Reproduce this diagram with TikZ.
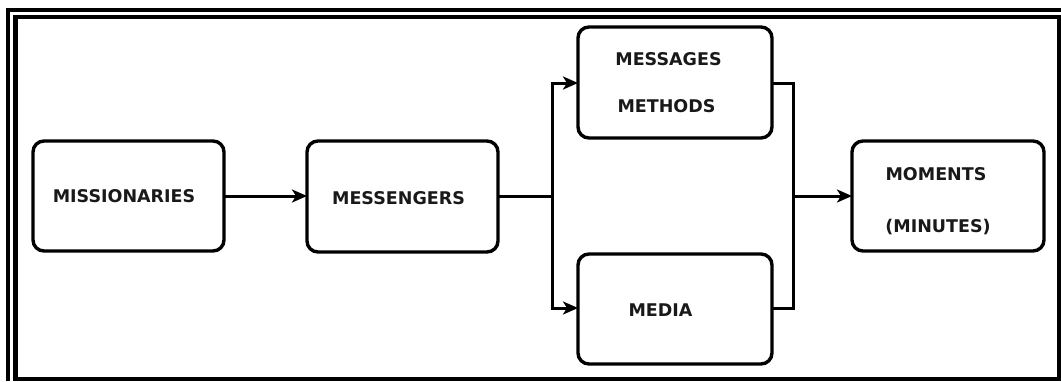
\documentclass[tikz,border=0pt]{standalone}
\usepackage{fontspec}
\setmainfont{DejaVu Sans}
\usetikzlibrary{arrows.meta}
\begin{document}
\begin{tikzpicture}[x=1pt,y=-1pt,
  box/.style={draw=black,line width=3.4pt,rounded corners=11pt,fill=white},
  lbl/.style={font=\fontsize{17.5}{20}\selectfont\bfseries,text=black!90,inner sep=0pt},
  link/.style={line width=3pt},
  arr/.style={link,-{Stealth[length=15pt,width=13pt,inset=4pt]}}]
\useasboundingbox (0,0) rectangle (1061,381);
% double frame
\draw[line width=3.8pt] (8,381) -- (8,9.8) -- (1061,9.8);
\draw[line width=4.8pt] (15.6,17) rectangle (1058.9,378.9);
% boxes
\draw[box] (33,141) rectangle (224,251);
\draw[box] (307,141) rectangle (498,252);
\draw[box] (578,27) rectangle (772,138);
\draw[box] (578,254) rectangle (772,364);
\draw[box] (852,141) rectangle (1044,251);
% labels
\node[lbl] (missionaries) at (124,196) {MISSIONARIES};
\node[lbl] (messengers) at (398.5,198) {MESSENGERS};
\node[lbl] (messages) at (668.5,59.5) {MESSAGES};
\node[lbl] (methods) at (666.5,106) {METHODS};
\node[lbl] (media) at (660.5,310) {MEDIA};
\node[lbl] (moments) at (936,174.5) {MOMENTS};
\node[lbl] (minutes) at (938,227.5) {(MINUTES)};
% anchor points on box edges
\coordinate (missR) at (224,196);
\coordinate (messL) at (307,196);
\coordinate (messR) at (498,196.5);
\coordinate (split) at (552.7,196.5);
\coordinate (msgL) at (578,83);
\coordinate (medL) at (578,308);
\coordinate (msgR) at (772,83);
\coordinate (medR) at (772,308);
\coordinate (merge) at (793.3,196);
\coordinate (momL) at (852,196);
% connectors
\draw[arr] (missR) -- (messL);
\draw[link] (messR) -- (split);
\draw[arr] (split) |- (msgL);
\draw[arr] (split) |- (medL);
\draw[link] (msgR) -| (merge);
\draw[link] (medR) -| (merge);
\draw[arr] (merge) -- (momL);
\end{tikzpicture}
\end{document}
